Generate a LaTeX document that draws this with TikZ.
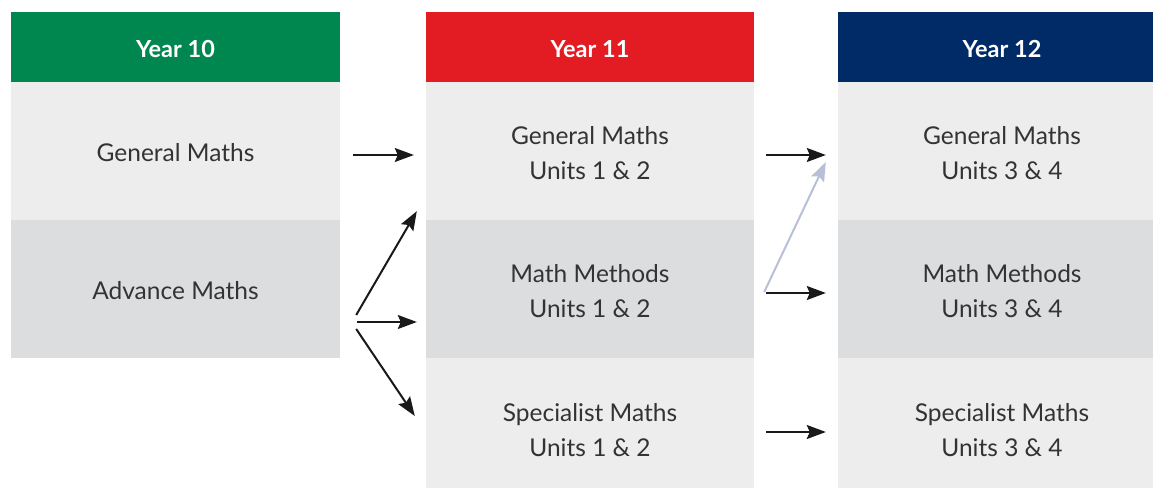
\documentclass[tikz,border=0pt]{standalone}
\usepackage{fontspec}
\setmainfont{Lato}
\usetikzlibrary{arrows.meta,calc}
\definecolor{ygreen}{HTML}{00864F}
\definecolor{yred}{HTML}{E31B23}
\definecolor{ynavy}{HTML}{002B66}
\definecolor{rowlight}{HTML}{EDEDED}
\definecolor{rowdark}{HTML}{DCDDDF}
\definecolor{txt}{HTML}{333333}
\definecolor{paleblue}{HTML}{B8C0D8}
\tikzset{
  hdr/.style={minimum height=70pt, inner sep=0pt},
  hdrtext/.style={inner sep=0pt, text=white, font=\fontsize{23.5}{28}\selectfont\bfseries},
  cell/.style={minimum height=138pt, inner sep=0pt},
  celltext/.style={inner sep=0pt, text=txt, align=center, font=\fontsize{24.5}{35}\selectfont},
  arr/.style={line width=2pt, draw=black!90, -{Stealth[length=19pt,width=14pt,inset=3pt]}},
  parr/.style={line width=2pt, draw=paleblue, -{Stealth[length=19pt,width=14pt,inset=3pt]}}
}
\begin{document}
\begin{tikzpicture}[x=1pt,y=-1pt]
\useasboundingbox (0,0) rectangle (1153,489);
\clip (0,0) rectangle (1153,489);
% column 1
\node[hdr, fill=ygreen, minimum width=329pt] (h10) at (175.5,47) {};
\node[hdrtext] (h10t) at ($(h10)+(0,2)$) {Year 10};
\node[cell, fill=rowlight, minimum width=329pt] (gm10) at (175.5,151) {};
\node[celltext] (gm10t) at ($(gm10)+(0,2)$) {General Maths};
\node[cell, fill=rowdark, minimum width=329pt] (am10) at (175.5,289) {};
\node[celltext] (am10t) at ($(am10)+(0,2)$) {Advance Maths};
% column 2
\node[hdr, fill=yred, minimum width=328pt] (h11) at (590,47) {};
\node[hdrtext] (h11t) at ($(h11)+(0,2)$) {Year 11};
\node[cell, fill=rowlight, minimum width=328pt] (gm11) at (590,151) {};
\node[celltext] (gm11t) at ($(gm11)+(0,2)$) {General Maths\\Units 1 \& 2};
\node[cell, fill=rowdark, minimum width=328pt] (mm11) at (590,289) {};
\node[celltext] (mm11t) at ($(mm11)+(0,2)$) {Math Methods\\Units 1 \& 2};
\node[cell, fill=rowlight, minimum width=328pt, minimum height=130pt] (sm11) at (590,423) {};
\node[celltext] (sm11t) at ($(sm11)+(0,7)$) {Specialist Maths\\Units 1 \& 2};
% column 3
\node[hdr, fill=ynavy, minimum width=328pt] (h12) at (1002,47) {};
\node[hdrtext] (h12t) at ($(h12)+(0,2)$) {Year 12};
\node[cell, fill=rowlight, minimum width=328pt] (gm12) at (1002,151) {};
\node[celltext] (gm12t) at ($(gm12)+(0,2)$) {General Maths\\Units 3 \& 4};
\node[cell, fill=rowdark, minimum width=328pt] (mm12) at (1002,289) {};
\node[celltext] (mm12t) at ($(mm12)+(0,2)$) {Math Methods\\Units 3 \& 4};
\node[cell, fill=rowlight, minimum width=328pt, minimum height=130pt] (sm12) at (1002,423) {};
\node[celltext] (sm12t) at ($(sm12)+(0,7)$) {Specialist Maths\\Units 3 \& 4};
% arrows year 10 -> 11
\draw[arr] ($(gm10.east)+(13,4)$) -- ($(gm11.west)+(-12,4)$);
\draw[arr] ($(am10.east)+(16,26)$) -- ($(gm11.south west)+(-9,-9)$);
\draw[arr] ($(am10.east)+(17,33)$) -- ($(mm11.west)+(-9,33)$);
\draw[arr] ($(am10.east)+(16,40)$) -- ($(sm11.west)+(-11,-7)$);
% arrows year 11 -> 12
\draw[parr] ($(mm11.east)+(10,3)$) -- ($(gm12.west)+(-12,11)$);
\draw[arr] ($(gm11.east)+(12,4)$) -- ($(gm12.west)+(-12,4)$);
\draw[arr] ($(mm11.east)+(12,4)$) -- ($(mm12.west)+(-12,4)$);
\draw[arr] ($(sm11.east)+(12,9)$) -- ($(sm12.west)+(-12,9)$);
\end{tikzpicture}
\end{document}
